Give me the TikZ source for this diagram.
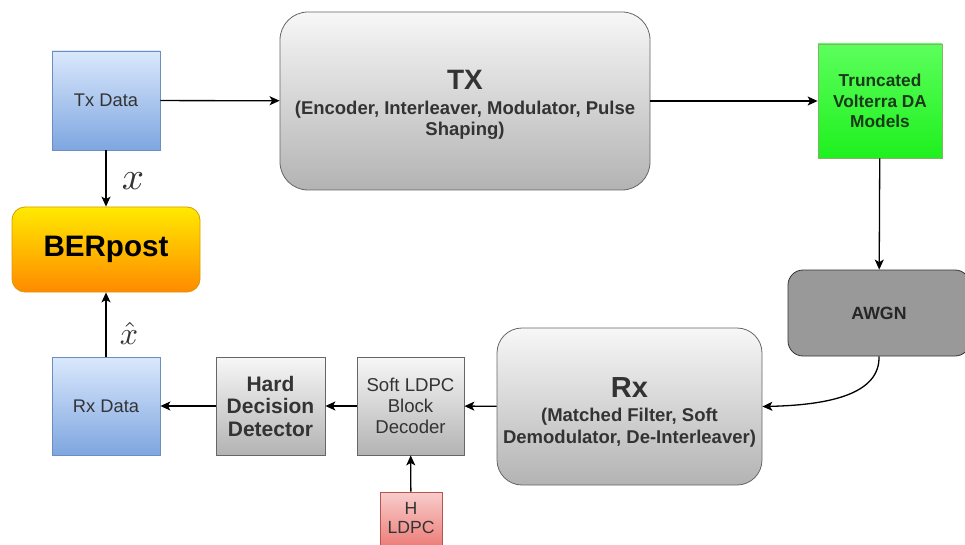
\documentclass[tikz,border=0pt]{standalone}
\usepackage{fontspec}
\usepackage{graphicx}
\setmainfont{Liberation Sans}
\usetikzlibrary{arrows.meta}

\definecolor{bluetop}{HTML}{DAE8FC}
\definecolor{bluebot}{HTML}{7EA6E0}
\definecolor{blueline}{HTML}{6C8EBF}
\definecolor{graytop}{HTML}{F7F7F7}
\definecolor{graybot}{HTML}{B3B3B3}
\definecolor{grayline}{HTML}{666666}
\definecolor{yeltop}{HTML}{FFEA00}
\definecolor{yelbot}{HTML}{FF8A00}
\definecolor{yelline}{HTML}{D79B00}
\definecolor{grntop}{HTML}{5CFF5C}
\definecolor{grnbot}{HTML}{1EF01E}
\definecolor{grnline}{HTML}{82B366}
\definecolor{grntext}{HTML}{1A3A1A}
\definecolor{awgnfill}{HTML}{999999}
\definecolor{awgnline}{HTML}{333333}
\definecolor{redtop}{HTML}{F8CECC}
\definecolor{redbot}{HTML}{EA6B66}
\definecolor{redline}{HTML}{B85450}
\definecolor{txtgray}{HTML}{333333}

% font size and line pitch in one go
\newcommand{\fsz}[2]{\fontsize{#1}{#2}\selectfont}

\tikzset{
  x=1pt, y=1pt,
  blk/.style={draw, line width=0.8pt, align=center, inner sep=0pt, text=txtgray},
  databox/.style={blk, draw=blueline, top color=bluetop, bottom color=bluebot},
  graybox/.style={blk, draw=grayline, top color=graytop, bottom color=graybot},
  bigbox/.style={graybox, rounded corners=28pt},
  btext/.style={align=center, inner sep=0pt, text=txtgray, font=\fsz{18.5}{21.5}\bfseries},
  arr/.style={-{Stealth[length=10pt,width=9pt,inset=2.5pt]}, line width=1.3pt, black},
}

\begin{document}
\begin{tikzpicture}
\useasboundingbox (0,0) rectangle (965,-545);

% transmitter chain
\node[databox, minimum width=108pt, minimum height=99pt, font=\fsz{18.3}{22}]
  (txd) at (106,-100.5) {Tx Data};
\node[bigbox, minimum width=370pt, minimum height=178pt] (tx) at (465,-101) {};
\node[btext] (txtext) at (465,-105)
  {{\fsz{28}{28}TX}\\[3pt](Encoder, Interleaver, Modulator, Pulse\\Shaping)};
\node[blk, draw=grnline, top color=grntop, bottom color=grnbot, text=grntext,
  minimum width=124pt, minimum height=114pt, font=\fsz{17.3}{20.5}\bfseries]
  (dac) at (880,-101) {Truncated\\Volterra DA\\Models};
\node[blk, draw=awgnline, fill=awgnfill, rounded corners=15pt, text=black!85,
  minimum width=182pt, minimum height=86pt, font=\fsz{17.7}{20}\bfseries]
  (awgn) at (879,-313) {AWGN};

% receiver chain
\node[bigbox, rounded corners=25pt, minimum width=265pt, minimum height=157pt]
  (rx) at (629.5,-406.5) {};
\node[btext] (rxtext) at (629.5,-412)
  {{\fsz{29}{29}Rx}\\[3pt](Matched Filter, Soft\\Demodulator, De-Interleaver)};
\node[graybox, minimum width=107pt, minimum height=98pt, font=\fsz{18.6}{21}]
  (ldpc) at (410.5,-406) {Soft LDPC\\Block\\Decoder};
\node[graybox, minimum width=109pt, minimum height=98pt, font=\fsz{21}{22.5}\bfseries]
  (hdd) at (270.5,-406) {Hard\\Decision\\Detector};
\node[databox, minimum width=108pt, minimum height=98pt, font=\fsz{18.3}{22}]
  (rxd) at (106,-406) {Rx Data};
\node[blk, draw=redline, top color=redtop, bottom color=redbot,
  minimum width=62pt, minimum height=66pt] (hmat) at (411,-525) {};
\node[align=center, inner sep=0pt, text=txtgray, font=\fsz{17.6}{19.5}]
  (hmattext) at (411,-518) {H\\LDPC};

% error-rate block
\node[blk, draw=yelline, top color=yeltop, bottom color=yelbot, rounded corners=13pt,
  text=black, minimum width=188pt, minimum height=85pt, font=\fsz{29.6}{30}\bfseries]
  (ber) at (106,-249.5) {BERpost};

% connectors
\draw[arr] (txd) -- (tx);
\draw[arr] (tx) -- (dac);
\draw[arr] (dac) -- (awgn);
\draw[arr] (awgn.south) .. controls (880,-392) and (835,-405) .. (rx.east);
\draw[arr] (rx) -- (ldpc);
\draw[arr] (ldpc) -- (hdd);
\draw[arr] (hdd) -- (rxd);
\draw[arr] (hmat) -- (ldpc);
\draw[arr] (txd) -- (ber);
\draw[arr] (rxd) -- (ber);

% symbols on the data links
\node[inner sep=0pt, text=black!80] (xsym) at (133,-181) {\scalebox{3.9}{$x$}};
\node[inner sep=0pt, text=black!80] (xhatsym) at (129,-333) {\scalebox{3.2}{$\hat{x}$}};
\end{tikzpicture}
\end{document}
